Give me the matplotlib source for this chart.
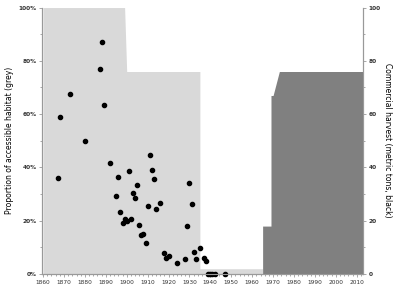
import matplotlib.pyplot as plt
from matplotlib.ticker import MultipleLocator, FuncFormatter

# доступне середовище (сіра площа), %
habitat_years = [1860, 1899, 1900, 1935, 1935, 1965, 1965]
habitat = [100, 100, 76, 76, 2, 2, 0]

# промисловий вилов (темна площа), тонни
harvest_years = [1965, 1965, 1969, 1969, 1970, 1973, 2013]
harvest = [0, 18, 18, 67, 67, 76, 76]

# точки (чорні)
dot_years = [1867, 1868, 1873, 1880, 1887, 1888, 1889, 1892, 1895, 1896, 1897, 1898,
             1899, 1900, 1901, 1902, 1903, 1904, 1905, 1906, 1907, 1908, 1909, 1910,
             1911, 1912, 1913, 1914, 1916, 1918, 1919, 1920, 1924, 1928, 1929, 1930,
             1931, 1932, 1933, 1935, 1937, 1938, 1939, 1940, 1941, 1942, 1947]
dot_vals = [35.9, 59.0, 67.5, 49.8, 76.8, 87.0, 63.5, 41.7, 29.3, 36.3, 23.1, 19.0,
            20.6, 20.0, 38.8, 20.6, 30.4, 28.6, 33.4, 18.5, 14.5, 15.0, 11.7, 25.5,
            44.5, 39.0, 35.6, 24.4, 26.8, 7.8, 6.0, 6.8, 4.0, 5.6, 18.0, 34.1,
            26.1, 8.3, 5.6, 9.8, 6.1, 4.8, 0, 0, 0, 0, 0]

fig = plt.figure(figsize=(4, 2.9), dpi=100)
ax = fig.add_axes([0.105, 0.055, 0.8025, 0.919])
ax2 = ax.twinx()

ax.fill_between(habitat_years, habitat, color="#d9d9d9", lw=0, zorder=1)
ax.scatter(dot_years, dot_vals, s=9, color="black", zorder=3, clip_on=False)
ax2.fill_between(harvest_years, harvest, color="#808080", lw=0)

ax.set_xlim(1859.5, 2013)
ax.set_ylim(0, 100)
ax2.set_ylim(0, 100)

ax.xaxis.set_major_locator(MultipleLocator(10))
ax.xaxis.set_minor_locator(MultipleLocator(2))
ax.yaxis.set_major_locator(MultipleLocator(20))
ax.yaxis.set_minor_locator(MultipleLocator(10))
ax2.yaxis.set_major_locator(MultipleLocator(20))
ax2.yaxis.set_minor_locator(MultipleLocator(10))
ax.yaxis.set_major_formatter(FuncFormatter(lambda v, p: "%d%%" % v))

for a in (ax, ax2):
    a.spines["top"].set_visible(False)
    for s in ("left", "right", "bottom"):
        a.spines[s].set_color("#999999")
        a.spines[s].set_linewidth(0.8)
    a.tick_params(which="both", colors="#999999", labelcolor="#333333",
                  labelsize=4.2, length=2, width=0.6, pad=2)
    a.tick_params(which="minor", length=1.5)

for lbl in ax.get_yticklabels() + ax2.get_yticklabels():
    lbl.set_fontweight("bold")

ax.set_ylabel("Proportion of accessible habitat (grey)", fontsize=5.5, labelpad=3)
ax2.set_ylabel("Commercial harvest (metric tons, black)", fontsize=5.5,
               rotation=-90, labelpad=8)

fig.savefig("out.png", dpi=100)
